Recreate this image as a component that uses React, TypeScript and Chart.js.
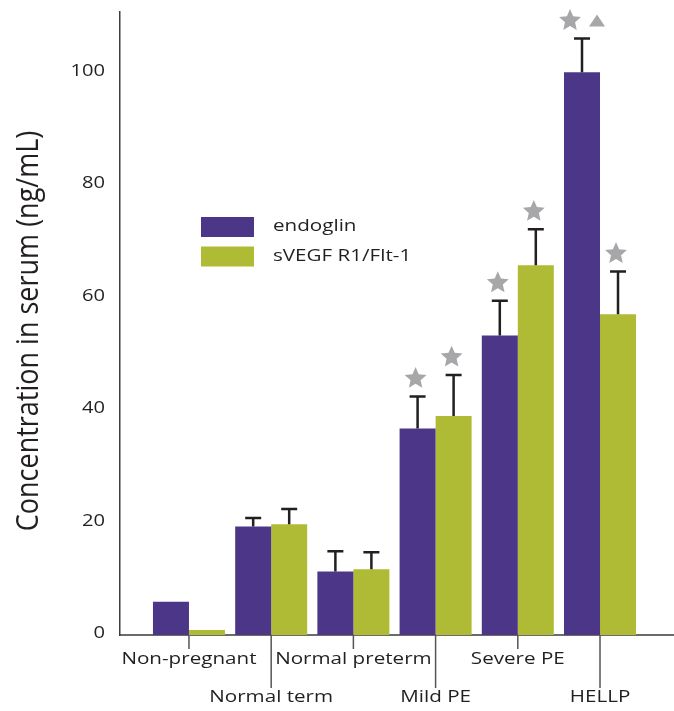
import { useEffect, useRef } from "react";
import { Chart, registerables } from "chart.js";

Chart.register(...registerables);

const categories = ["Non-pregnant", "Normal term", "Normal preterm", "Mild PE", "Severe PE", "HELLP"];
const endoglin = [5.9, 19.3, 11.3, 36.7, 53.2, 100];
const endoglinErr = [0, 1.5, 3.6, 5.7, 6.2, 6];
const sflt = [0.9, 19.7, 11.7, 38.9, 65.7, 57];
const sfltErr = [0, 2.7, 3.0, 7.3, 6.4, 7.6];
const endoglinMarks = ["", "", "", "star", "star", "star+triangle"];
const sfltMarks = ["", "", "", "star", "star", "star"];
const yTicks = [0, 20, 40, 60, 80, 100];
const seriesNames = ["endoglin", "sVEGF R1/Flt-1"];
const yTitle = "Concentration in serum (ng/mL)";

const PURPLE = "#4b3687";
const GREEN = "#b0bb35";
const GREY = "#a7a7aa";
const INK = "#231f20";
const FONT = '"Open Sans", "Noto Sans", sans-serif';

function drawText(ctx: CanvasRenderingContext2D, text: string, x: number, y: number, align: CanvasTextAlign, sx: number, size: number) {
  ctx.save();
  ctx.translate(x, y);
  ctx.scale(sx, 1);
  ctx.font = `${size}px ${FONT}`;
  ctx.fillStyle = INK;
  ctx.textAlign = align;
  ctx.textBaseline = "middle";
  ctx.fillText(text, 0, 0);
  ctx.restore();
}

function drawStar(ctx: CanvasRenderingContext2D, cx: number, cy: number, R: number) {
  const r = R * 0.46;
  ctx.beginPath();
  for (let k = 0; k < 10; k++) {
    const rad = k % 2 === 0 ? R : r;
    const a = -Math.PI / 2 + (k * Math.PI) / 5;
    const px = cx + rad * Math.cos(a);
    const py = cy + rad * Math.sin(a) + R * 0.1;
    if (k === 0) ctx.moveTo(px, py);
    else ctx.lineTo(px, py);
  }
  ctx.closePath();
  ctx.fillStyle = GREY;
  ctx.fill();
}

function drawTriangle(ctx: CanvasRenderingContext2D, cx: number, cy: number, w: number, h: number) {
  ctx.beginPath();
  ctx.moveTo(cx, cy - h / 2);
  ctx.lineTo(cx + w / 2, cy + h / 2);
  ctx.lineTo(cx - w / 2, cy + h / 2);
  ctx.closePath();
  ctx.fillStyle = GREY;
  ctx.fill();
}

const decorPlugin = {
  id: "decor",
  afterDatasetsDraw(chart: any) {
    const ctx: CanvasRenderingContext2D = chart.ctx;
    const yScale = chart.scales.y;
    const errs = [endoglinErr, sfltErr];
    const vals = [endoglin, sflt];
    const marks = [endoglinMarks, sfltMarks];
    for (let d = 0; d < 2; d++) {
      const meta = chart.getDatasetMeta(d);
      meta.data.forEach((el: any, j: number) => {
        const err = errs[d][j];
        const x = el.x;
        let capY = el.y;
        if (err > 0) {
          capY = yScale.getPixelForValue(vals[d][j] + err);
          ctx.save();
          ctx.strokeStyle = INK;
          ctx.lineWidth = 2.5;
          ctx.beginPath();
          ctx.moveTo(x, el.y);
          ctx.lineTo(x, capY);
          ctx.moveTo(x - 8, capY);
          ctx.lineTo(x + 8, capY);
          ctx.stroke();
          ctx.restore();
        }
        const m = marks[d][j];
        if (m === "star") {
          drawStar(ctx, x - 2, capY - 19, 11.5);
        } else if (m === "star+triangle") {
          drawStar(ctx, x - 12, capY - 19, 11.5);
          drawTriangle(ctx, x + 15, capY - 18, 16, 12);
        }
      });
    }
  },
  afterDraw(chart: any) {
    const ctx: CanvasRenderingContext2D = chart.ctx;
    const xScale = chart.scales.x;
    const yScale = chart.scales.y;
    const area = chart.chartArea;
    categories.forEach((c, i) => {
      const x = xScale.getPixelForValue(i);
      const lower = i % 2 === 1;
      ctx.save();
      ctx.strokeStyle = "#555";
      ctx.lineWidth = 1.5;
      ctx.beginPath();
      ctx.moveTo(x, area.bottom);
      ctx.lineTo(x, area.bottom + (lower ? 53 : 14));
      ctx.stroke();
      ctx.restore();
      drawText(ctx, c, x, area.bottom + (lower ? 63 : 25), "center", 1.33, 15.5);
    });
    yTicks.forEach((t) => {
      drawText(ctx, String(t), area.left - 15, yScale.getPixelForValue(t) - 1, "right", 1.3, 15.5);
    });
    ctx.save();
    ctx.translate(29, 331);
    ctx.scale(1.14, 1);
    ctx.rotate(-Math.PI / 2);
    ctx.font = `27px ${FONT}`;
    ctx.fillStyle = INK;
    ctx.textAlign = "center";
    ctx.textBaseline = "middle";
    ctx.fillText(yTitle, 0, 0);
    ctx.restore();
    const colors = [PURPLE, GREEN];
    seriesNames.forEach((n, i) => {
      const bx = area.left + 81;
      const by = area.top + 205 + i * 29.5;
      ctx.fillStyle = colors[i];
      ctx.fillRect(bx, by, 53, 20);
      drawText(ctx, n, bx + 72, by + 10, "left", 1.33, 15.5);
    });
  },
};

export default function App() {
  const ref = useRef<HTMLCanvasElement | null>(null);
  useEffect(() => {
    if (!ref.current) return;
    const chart = new Chart(ref.current, {
      type: "bar",
      data: {
        datasets: [
          {
            label: seriesNames[0],
            data: endoglin.map((v, i) => ({ x: i, y: v })),
            backgroundColor: PURPLE,
            borderWidth: 0,
          },
          {
            label: seriesNames[1],
            data: sflt.map((v, i) => ({ x: i, y: v })),
            backgroundColor: GREEN,
            borderWidth: 0,
          },
        ],
      },
      options: {
        animation: false,
        responsive: true,
        maintainAspectRatio: false,
        layout: { padding: { left: 120, top: 12, right: 0, bottom: 76 } },
        datasets: { bar: { categoryPercentage: 0.876, barPercentage: 1 } },
        plugins: { legend: { display: false }, tooltip: { enabled: false } },
        scales: {
          x: {
            type: "linear",
            offset: false,
            min: -0.839,
            max: 5.9,
            afterBuildTicks: (s: any) => {
              s.ticks = categories.map((_, i) => ({ value: i }));
            },
            grid: { display: false, drawTicks: false, tickLength: 0 },
            ticks: { display: false },
            border: { display: true, color: "#6b6b6b", width: 2 },
          },
          y: {
            type: "linear",
            min: 0,
            max: 110.7,
            grid: { display: false, drawTicks: false, tickLength: 0 },
            ticks: { display: false },
            border: { display: true, color: "#3d3d3d", width: 1.5 },
          },
        },
      },
      plugins: [decorPlugin],
    } as any);
    return () => chart.destroy();
  }, []);
  return (
    <div style={{ position: "absolute", left: 0, top: 0, width: 674, height: 711, background: "#fff" }}>
      <canvas ref={ref} />
    </div>
  );
}
